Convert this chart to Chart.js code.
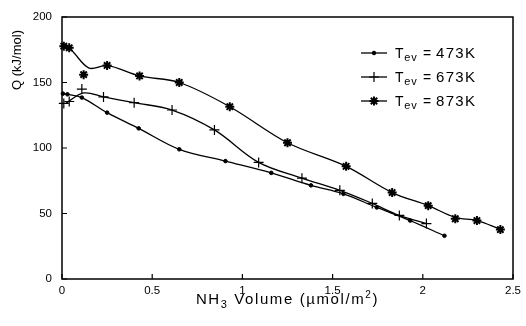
<!DOCTYPE html>
<html><head><meta charset="utf-8">
<script src="https://cdn.jsdelivr.net/npm/chart.js@4"></script>
<style>html,body{margin:0;padding:0;background:#fff;}#wrap{width:526px;height:326px;position:relative;}</style>
</head><body><div id="wrap"><canvas id="c"></canvas></div>
<script>
const seriesLabels = ['473K', '673K', '873K'];
const xTicks = [0, 0.5, 1, 1.5, 2, 2.5];
const yTicks = [0, 50, 100, 150, 200];

// T_ev = 473K : measured points and drawn curve nodes
const mx473 = [0.005, 0.03, 0.11, 0.25, 0.425, 0.65, 0.906, 1.16, 1.38, 1.56, 1.745, 1.93, 2.12];
const mq473 = [141.5, 141, 138.5, 127, 115, 99, 90, 81, 71.5, 65, 54.6, 44.6, 33];
const cx473 = [0.005, 0.03, 0.11, 0.25, 0.425, 0.65, 0.906, 1.16, 1.38, 1.56, 1.745, 1.93, 2.12];
const cq473 = [141.5, 141, 138.5, 127, 115, 99, 90, 81, 71.5, 65, 54.6, 44.6, 33];

// T_ev = 673K
const mx673 = [0.01, 0.04, 0.11, 0.23, 0.40, 0.61, 0.845, 1.09, 1.33, 1.54, 1.72, 1.87, 2.02];
const mq673 = [134, 135.5, 145, 139, 134.6, 129, 113.8, 89, 77, 67.7, 57.7, 48.5, 42.3];
const cx673 = [0.02, 0.12, 0.23, 0.40, 0.61, 0.845, 1.09, 1.33, 1.54, 1.72, 1.87, 2.02];
const cq673 = [134, 142, 139, 134.6, 129, 113.8, 89, 77, 67.7, 57.7, 48.5, 42.3];

// T_ev = 873K
const mx873 = [0.01, 0.04, 0.12, 0.25, 0.43, 0.65, 0.93, 1.25, 1.575, 1.83, 2.03, 2.18, 2.30, 2.43];
const mq873 = [177.7, 176.5, 156, 163, 155, 150, 131.5, 104, 86, 66, 56, 46, 44.6, 37.7];
const cx873 = [0.01, 0.05, 0.15, 0.25, 0.43, 0.65, 0.93, 1.25, 1.575, 1.83, 2.03, 2.18, 2.30, 2.43];
const cq873 = [178, 175, 161, 163, 155, 150, 131.5, 104, 86, 66, 56, 47, 44.6, 38];

const FONT = "'Liberation Sans', Arial, sans-serif";
const pts = (xs, ys) => xs.map((x, i) => ({x: x, y: ys[i]}));

const markerStyles = [
  {pointStyle: 'circle', radius: 1.8, borderWidth: 1, fill: true},
  {pointStyle: 'cross', radius: 5, borderWidth: 1.2, fill: false},
  {pointStyle: 'star', radius: 4.5, borderWidth: 2, fill: false}
];

function curveDs(data) {
  return {type: 'line', data: data, borderColor: '#000', borderWidth: 1.3, pointRadius: 0,
    tension: 0.35, fill: false, clip: false};
}
function markDs(data, st) {
  return {type: 'line', data: data, showLine: false, pointStyle: st.pointStyle, pointRadius: st.radius,
    pointBorderWidth: st.borderWidth, pointBorderColor: '#000', pointBackgroundColor: '#000', clip: false};
}

function runWidth(ctx, parts, spacing) {
  let w = 0;
  parts.forEach(p => { ctx.font = p[1] + 'px ' + FONT; ctx.letterSpacing = spacing + 'px'; w += ctx.measureText(p[0]).width; });
  return w;
}
function drawRun(ctx, parts, x, y, spacing) {
  parts.forEach(p => {
    ctx.font = p[1] + 'px ' + FONT;
    ctx.letterSpacing = spacing + 'px';
    ctx.fillText(p[0], x, y + p[2]);
    x += ctx.measureText(p[0]).width;
  });
  return x;
}

const decor = {
  id: 'decor',
  afterDraw(chart) {
    const ctx = chart.ctx, a = chart.chartArea;
    const xs = chart.scales.x, ys = chart.scales.y;
    ctx.save();
    ctx.strokeStyle = '#000';
    ctx.lineWidth = 1.5;
    ctx.strokeRect(a.left, a.top, a.right - a.left, a.bottom - a.top);
    ctx.lineWidth = 1.2;
    ctx.beginPath();
    xTicks.forEach(v => { const p = xs.getPixelForValue(v); ctx.moveTo(p, a.bottom); ctx.lineTo(p, a.bottom - 5); });
    yTicks.forEach(v => { const p = ys.getPixelForValue(v); ctx.moveTo(a.left, p); ctx.lineTo(a.left + 5, p); });
    ctx.stroke();
    ctx.fillStyle = '#000';
    ctx.textAlign = 'left';
    ctx.textBaseline = 'alphabetic';
    // x title
    const xParts = [['NH', 15, 0], ['3', 11, 4], [' Volume (\u00b5mol/m', 15, 0], ['2', 10, -6], [')', 15, 0]];
    const w = runWidth(ctx, xParts, 1.6);
    drawRun(ctx, xParts, (a.left + a.right) / 2 - w / 2, 304, 1.6);
    // y title
    ctx.save();
    ctx.letterSpacing = '0px';
    ctx.font = '13px ' + FONT;
    ctx.textAlign = 'center';
    ctx.textBaseline = 'middle';
    ctx.translate(17, 60);
    ctx.rotate(-Math.PI / 2);
    ctx.fillText('Q (kJ/mol)', 0, 0);
    ctx.restore();
    ctx.restore();
    // legend
    const rows = [53, 77, 101];
    seriesLabels.forEach((lab, i) => {
      const y = rows[i];
      ctx.save();
      ctx.strokeStyle = '#000';
      ctx.lineWidth = 1.3;
      ctx.beginPath(); ctx.moveTo(361, y); ctx.lineTo(387, y); ctx.stroke();
      const st = markerStyles[i];
      ctx.lineWidth = st.borderWidth;
      ctx.fillStyle = '#000';
      Chart.helpers.drawPoint(ctx, {pointStyle: st.pointStyle, radius: st.radius, borderWidth: st.borderWidth, rotation: 0}, 374, y);
      if (st.fill) ctx.fill();
      ctx.fillStyle = '#000';
      ctx.textBaseline = 'alphabetic';
      ctx.textAlign = 'left';
      drawRun(ctx, [['T', 14, 0], ['ev', 11, 3]], 395, y + 5, 0.8);
      drawRun(ctx, [['=', 14, 0]], 423, y + 5, 0);
      drawRun(ctx, [[lab, 15, 0]], 436, y + 5, 1.3);
      ctx.restore();
    });
  }
};

new Chart(document.getElementById('c'), {
  type: 'line',
  data: {
    datasets: [
      curveDs(pts(cx473, cq473)), markDs(pts(mx473, mq473), markerStyles[0]),
      curveDs(pts(cx673, cq673)), markDs(pts(mx673, mq673), markerStyles[1]),
      curveDs(pts(cx873, cq873)), markDs(pts(mx873, mq873), markerStyles[2])
    ]
  },
  options: {
    responsive: true, maintainAspectRatio: false, animation: false,
    layout: {padding: {top: 17, right: 12, left: 0, bottom: 0}},
    plugins: {legend: {display: false}, tooltip: {enabled: false}},
    scales: {
      x: {
        type: 'linear', min: 0, max: 2.5,
        afterBuildTicks: s => { s.ticks = xTicks.map(v => ({value: v})); },
        grid: {display: false, drawTicks: false}, border: {display: false},
        ticks: {color: '#000', font: {family: FONT, size: 11.5}, padding: 5, maxRotation: 0, autoSkip: false,
          callback: v => String(v)},
        afterFit: s => { s.height = 47; }
      },
      y: {
        type: 'linear', min: 0, max: 200,
        afterBuildTicks: s => { s.ticks = yTicks.map(v => ({value: v})); },
        grid: {display: false, drawTicks: false}, border: {display: false},
        ticks: {color: '#000', font: {family: FONT, size: 11.5}, padding: 10},
        afterFit: s => { s.width = 62; }
      }
    }
  },
  plugins: [decor]
});
</script></body></html>
